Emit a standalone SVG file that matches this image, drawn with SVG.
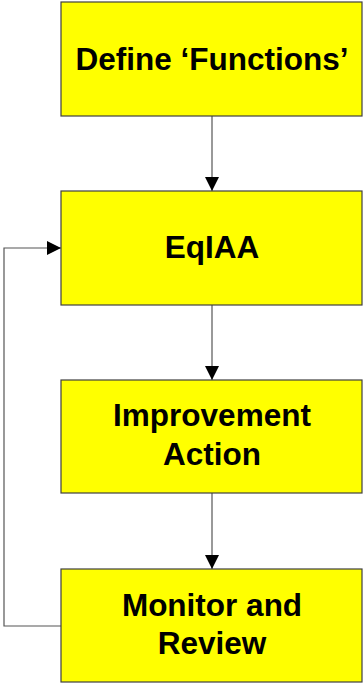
<svg xmlns="http://www.w3.org/2000/svg" width="363" height="684" viewBox="0 0 363 684">
<style>
.box{fill:#ffff00;stroke:#404040;stroke-width:1.2}
.lbl{font-family:"Liberation Sans",Arial,sans-serif;font-weight:bold;font-size:31.5px;fill:#000;text-anchor:middle}
.con{fill:none;stroke:#555;stroke-width:1.2}
</style>
<defs>
<marker id="ah" markerWidth="14" markerHeight="14" refX="14" refY="7" orient="auto" markerUnits="userSpaceOnUse">
<path d="M0,0 L14,7 L0,14 Z" fill="#000"/>
</marker>
</defs>
<rect width="363" height="684" fill="#fff"/>
<g id="connectors">
<line class="con" x1="212" y1="116" x2="212" y2="191" marker-end="url(#ah)"/>
<line class="con" x1="212" y1="305" x2="212" y2="380" marker-end="url(#ah)"/>
<line class="con" x1="212" y1="493" x2="212" y2="569" marker-end="url(#ah)"/>
<polyline class="con" points="61,626 4,626 4,248 61,248" marker-end="url(#ah)"/>
</g>
<g id="n1">
<rect class="box" x="61" y="2" width="301" height="114"/>
<text class="lbl" x="212" y="70">Define ‘Functions’</text>
</g>
<g id="n2">
<rect class="box" x="61" y="191" width="301" height="114"/>
<text class="lbl" x="212" y="258">EqIAA</text>
</g>
<g id="n3">
<rect class="box" x="61" y="380" width="301" height="113"/>
<text class="lbl" x="212" y="426">Improvement</text>
<text class="lbl" x="212" y="465">Action</text>
</g>
<g id="n4">
<rect class="box" x="61" y="569" width="301" height="113"/>
<text class="lbl" x="212" y="616">Monitor and</text>
<text class="lbl" x="212" y="654">Review</text>
</g>
</svg>
